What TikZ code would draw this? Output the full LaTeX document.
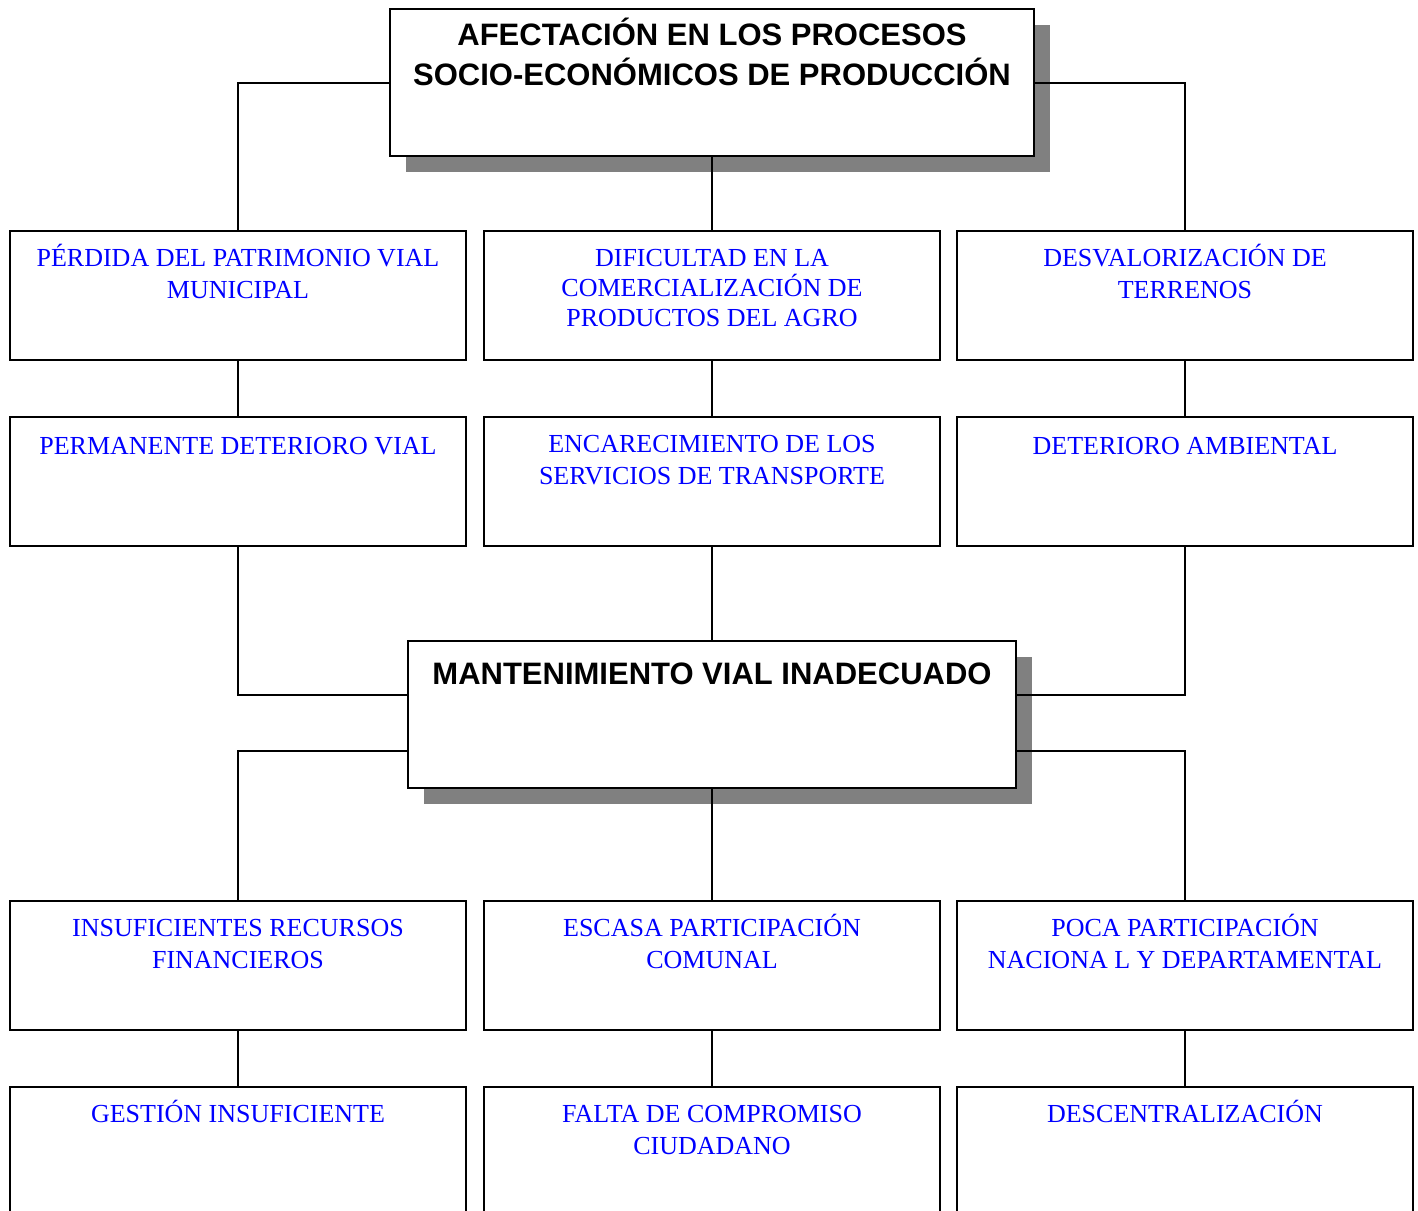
\documentclass[tikz,border=0pt]{standalone}
\usepackage{fontspec}
\setmainfont{Liberation Serif}
\newfontfamily\titlefont{Liberation Sans}
\usetikzlibrary{shadows}
\definecolor{azul}{RGB}{0,0,255}
\definecolor{sombra}{RGB}{128,128,128}

\begin{document}
\begin{tikzpicture}[x=0.5pt,y=-0.5pt]
\tikzset{caja/.style={draw, line width=1pt, fill=white, minimum width=228pt, minimum height=64.5pt, anchor=north west, inner sep=0pt},
         titulo/.style={draw, line width=1pt, fill=white, minimum height=73.5pt, anchor=north west, inner sep=0pt,
                        drop shadow={shadow xshift=8pt, shadow yshift=-8pt, fill=sombra, opacity=1}},
         texto/.style={anchor=base, align=center, text=azul, inner sep=0pt, font=\fontsize{13}{15.8}\selectfont},
         textot/.style={anchor=base, align=center, inner sep=0pt, font=\titlefont\bfseries\fontsize{15.5}{20}\selectfont},
         linea/.style={line width=1pt}}
\useasboundingbox (0,0) rectangle (1418,1210);
\clip (0,0) rectangle (1418,1210);

% problema central y efecto principal
\node[titulo, minimum width=322pt] (afect) at (389,8) {};
\node[textot] (afectT) at ([yshift=-38.5pt]afect.north) {AFECTACIÓN EN LOS PROCESOS\\SOCIO-ECONÓMICOS DE PRODUCCIÓN};
\node[titulo, minimum width=304pt] (mant) at (407,640) {};
\node[textot] (mantT) at ([yshift=-22pt]mant.north) {MANTENIMIENTO VIAL INADECUADO};

% efectos
\node[caja] (perdida) at (9,230) {};
\node[texto] (perdidaT) at ([yshift=-34.1pt]perdida.north) {PÉRDIDA DEL PATRIMONIO VIAL\\MUNICIPAL};
\node[caja] (dificultad) at (483,230) {};
\node[texto, font=\fontsize{13}{15}\selectfont] (dificultadT) at ([yshift=-48.3pt]dificultad.north) {DIFICULTAD EN LA\\COMERCIALIZACIÓN DE\\PRODUCTOS DEL AGRO};
\node[caja] (desval) at (956,230) {};
\node[texto] (desvalT) at ([yshift=-34.1pt]desval.north) {DESVALORIZACIÓN DE\\TERRENOS};

\node[caja] (deterioro) at (9,416) {};
\node[texto] (deterioroT) at ([yshift=-19pt]deterioro.north) {PERMANENTE DETERIORO VIAL};
\node[caja] (encarec) at (483,416) {};
\node[texto] (encarecT) at ([yshift=-34.1pt]encarec.north) {ENCARECIMIENTO DE LOS\\SERVICIOS DE TRANSPORTE};
\node[caja] (ambiental) at (956,416) {};
\node[texto] (ambientalT) at ([yshift=-19pt]ambiental.north) {DETERIORO AMBIENTAL};

% causas
\node[caja] (insuf) at (9,900) {};
\node[texto] (insufT) at ([yshift=-34.1pt]insuf.north) {INSUFICIENTES RECURSOS\\FINANCIEROS};
\node[caja] (escasa) at (483,900) {};
\node[texto] (escasaT) at ([yshift=-34.1pt]escasa.north) {ESCASA PARTICIPACIÓN\\COMUNAL};
\node[caja] (poca) at (956,900) {};
\node[texto] (pocaT) at ([yshift=-34.1pt]poca.north) {POCA PARTICIPACIÓN\\NACIONA L Y DEPARTAMENTAL};

\node[caja] (gestion) at (9,1086) {};
\node[texto] (gestionT) at ([yshift=-18.3pt]gestion.north) {GESTIÓN INSUFICIENTE};
\node[caja] (falta) at (483,1086) {};
\node[texto] (faltaT) at ([yshift=-34.1pt]falta.north) {FALTA DE COMPROMISO\\CIUDADANO};
\node[caja] (descent) at (956,1086) {};
\node[texto] (descentT) at ([yshift=-18.3pt]descent.north) {DESCENTRALIZACIÓN};

\coordinate (mantA) at ([yshift=-27.5pt]mant.north west);
\coordinate (mantB) at ([yshift=-27.5pt]mant.north east);
\coordinate (mantC) at ([yshift=-55.5pt]mant.north west);
\coordinate (mantD) at ([yshift=-55.5pt]mant.north east);

% conectores
\draw[linea] (afect.west) -| (perdida.north);
\draw[linea] (afect.south) -- (dificultad.north);
\draw[linea] (afect.east) -| (desval.north);
\draw[linea] (perdida.south) -- (deterioro.north);
\draw[linea] (dificultad.south) -- (encarec.north);
\draw[linea] (desval.south) -- (ambiental.north);
\draw[linea] (deterioro.south) |- (mantA);
\draw[linea] (encarec.south) -- (mant.north);
\draw[linea] (ambiental.south) |- (mantB);
\draw[linea] (mantC) -| (insuf.north);
\draw[linea] (mant.south) -- (escasa.north);
\draw[linea] (mantD) -| (poca.north);
\draw[linea] (insuf.south) -- (gestion.north);
\draw[linea] (escasa.south) -- (falta.north);
\draw[linea] (poca.south) -- (descent.north);
\end{tikzpicture}
\end{document}
